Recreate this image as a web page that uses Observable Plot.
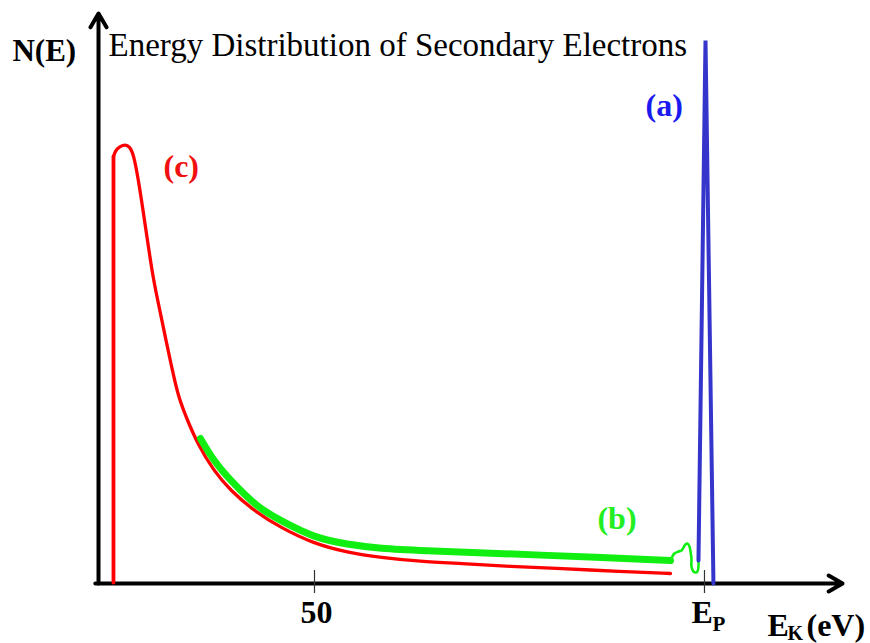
<!DOCTYPE html>
<html>
<head>
<meta charset="utf-8">
<script src="https://cdn.jsdelivr.net/npm/d3@7"></script>
<script src="https://cdn.jsdelivr.net/npm/@observablehq/plot@0.6"></script>
<style>
  html, body { margin: 0; padding: 0; background: #ffffff; }
  svg { display: block; }
</style>
</head>
<body>
<script>
// ---- Data (kinetic energy E in eV, N(E) in arbitrary units) ----
const titleText = "Energy Distribution of Secondary Electrons";

// (c) true secondary electrons (red): vertical onset, then the curve
const redOnsetE = [24.23, 24.23];
const redOnsetN = [0.2, 85.4];
const redE = [24.23, 24.49, 25.0, 25.77, 26.28, 26.79, 27.44, 28.08, 28.72, 29.36, 30.26, 31.15, 31.79, 32.56, 33.72, 35.0, 37.05, 39.23, 42.18, 45.64, 49.87, 54.23, 58.46, 63.59, 68.72, 75.13, 81.54, 89.23, 95.64];
const redN = [85.4, 86.6, 87.4, 87.8, 87.4, 86.0, 80.6, 74.0, 67.2, 60.6, 54.0, 47.2, 42.6, 37.2, 32.6, 28.0, 22.6, 18.6, 14.6, 11.2, 8.0, 6.2, 5.2, 4.4, 4.0, 3.4, 3.0, 2.4, 2.0];

// (b) inelastically scattered electrons (green, thick part)
const greenE = [35.38, 37.05, 39.23, 42.69, 45.64, 49.87, 54.23, 58.46, 63.59, 73.85, 86.67, 95.64];
const greenN = [29.0, 24.6, 20.6, 15.2, 12.6, 9.2, 7.8, 7.0, 6.6, 6.0, 5.2, 4.6];

// (b) loss features just below E_P (green, thin part)
const bumpE = [95.64, 96.15, 96.67, 97.05, 97.31, 97.56, 97.82, 98.08, 98.21, 98.33, 98.33, 98.59, 98.85, 99.10, 99.23, 99.23];
const bumpN = [4.6, 6.0, 6.4, 6.6, 7.2, 7.8, 8.0, 7.4, 6.4, 5.0, 3.4, 2.4, 2.2, 2.4, 3.4, 4.6];

// (a) elastic peak at E_P (blue)
const blueE = [99.23, 100.13, 101.15];
const blueN = [4.6, 108.6, 0];

// Axis ticks and labels
const tickValues = [50, 100];
const tickLabel50 = ["50"];
const epMain = ["E"], epSub = ["P"];
const ekMain = ["E"], ekSub = ["K"], ekUnit = ["(eV)"];
const yLabel = ["N(E)"];
const curveLabels = ["(a)", "(b)", "(c)"];
const curveLabelE = [92.44, 86.28, 30.64];
const curveLabelN = [93.6, 11.0, 81.4];
const curveLabelColors = ["#1a1af0", "#22ee22", "#f01010"];

// ---- Build tables ----
const toPts = (E, N) => E.map((e, i) => ({E: e, N: N[i]}));
const redOnset = toPts(redOnsetE, redOnsetN);
const red = toPts(redE, redN);
const green = toPts(greenE, greenN);
const bump = toPts(bumpE, bumpN);
const blue = toPts(blueE, blueN);
const labels = curveLabels.map((t, i) => ({t, E: curveLabelE[i], N: curveLabelN[i], c: curveLabelColors[i]}));

const serif = "'Liberation Serif', 'Times New Roman', Times, serif";

const chart = Plot.plot({
  width: 870,
  height: 643,
  margin: 0,
  style: {background: "#ffffff", fontFamily: serif, overflow: "visible"},
  x: {domain: [22.18, 118.08], range: [97, 845], axis: null},
  y: {domain: [0, 114], range: [583, 13], axis: null},
  marks: [
    // axes with arrow heads
    Plot.arrow([{x1: 22.31, y1: 0, x2: 22.31, y2: 114}], {x1: "x1", y1: "y1", x2: "x2", y2: "y2", stroke: "#000", strokeWidth: 4, headLength: 6}),
    Plot.arrow([{x1: 21.9, y1: 0, x2: 117.7, y2: 0}], {x1: "x1", y1: "y1", x2: "x2", y2: "y2", stroke: "#000", strokeWidth: 4, headLength: 6}),
    Plot.ruleX(tickValues, {y1: -2.0, y2: 2.6, stroke: "#333", strokeWidth: 1.2}),
    // curves
    Plot.line(redOnset, {x: "E", y: "N", stroke: "#ff0000", strokeWidth: 3.8}),
    Plot.line(red, {x: "E", y: "N", stroke: "#ff0000", strokeWidth: 3.3, curve: "basis"}),
    Plot.line(green, {x: "E", y: "N", stroke: "#11ee11", strokeWidth: 7, curve: "basis"}),
    Plot.line(bump, {x: "E", y: "N", stroke: "#11ee11", strokeWidth: 2.6, curve: "catmull-rom"}),
    Plot.line(blue, {x: "E", y: "N", stroke: "#3535cc", strokeWidth: 4, strokeLinejoin: "miter", strokeMiterlimit: 1}),
    // title
    Plot.text([titleText], {x: 23.59, y: 105.6, text: d => d, textAnchor: "start", lineAnchor: "bottom", fontSize: 33, fill: "#000"}),
    // y label
    Plot.text(yLabel, {x: 11.28, y: 104.6, text: d => d, textAnchor: "start", lineAnchor: "bottom", fontSize: 31, fontWeight: "bold", fill: "#000"}),
    // tick labels
    Plot.text(tickLabel50, {x: 50.26, y: -7.8, text: d => d, textAnchor: "middle", lineAnchor: "bottom", fontSize: 32, fontWeight: "bold", fill: "#000"}),
    Plot.text(epMain, {x: 98.33, y: -7.8, text: d => d, textAnchor: "start", lineAnchor: "bottom", fontSize: 32, fontWeight: "bold", fill: "#000"}),
    Plot.text(epSub, {x: 101.03, y: -9.4, text: d => d, textAnchor: "start", lineAnchor: "bottom", fontSize: 21, fontWeight: "bold", fill: "#000"}),
    // x label
    Plot.text(ekMain, {x: 108.08, y: -10.4, text: d => d, textAnchor: "start", lineAnchor: "bottom", fontSize: 32, fontWeight: "bold", fill: "#000"}),
    Plot.text(ekSub, {x: 110.64, y: -11.2, text: d => d, textAnchor: "start", lineAnchor: "bottom", fontSize: 20, fontWeight: "bold", fill: "#000"}),
    Plot.text(ekUnit, {x: 113.08, y: -10.4, text: d => d, textAnchor: "start", lineAnchor: "bottom", fontSize: 32, fontWeight: "bold", fill: "#000"}),
    // curve labels
    Plot.text(labels, {x: "E", y: "N", text: "t", fill: "c", textAnchor: "start", lineAnchor: "bottom", fontSize: 32, fontWeight: "bold"})
  ]
});
document.body.appendChild(chart);
</script>
</body>
</html>
